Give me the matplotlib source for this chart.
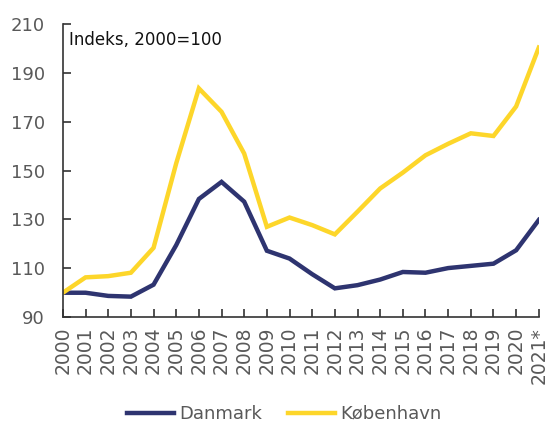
import numpy as np
import matplotlib.pyplot as plt

years = list(range(2000, 2022))
year_labels = [str(y) for y in years[:-1]] + ["2021*"]

danmark = [100, 100, 98.7, 98.4, 103.3, 119.5, 138.4, 145.4, 137.3, 117.2, 114,
           107.6, 101.8, 103.1, 105.4, 108.5, 108.2, 110.1, 111, 111.9, 117.4, 129.8]
kobenhavn = [100, 106.3, 106.8, 108.2, 118.4, 153, 183.7, 174.1, 157, 127, 130.8,
             127.7, 123.9, 133.2, 142.7, 149.2, 156.3, 161, 165.3, 164.2, 176.3, 200.4]

navy = "#2e3470"
yellow = "#fdd62a"
grey = "#595959"

fig = plt.figure(figsize=(5.47, 4.24), dpi=100)
ax = fig.add_axes([0.115, 0.252, 0.87, 0.691])

ax.plot(years, danmark, color=navy, lw=3.2, label="Danmark", solid_joinstyle="miter")
ax.plot(years, kobenhavn, color=yellow, lw=3.2, label="København", solid_joinstyle="miter")

ax.set_xlim(2000, 2021)
ax.set_ylim(90, 210)
ax.set_yticks(np.arange(90, 211, 20))
ax.set_xticks(years)
ax.set_xticklabels(year_labels, rotation=90)

for s in ["top", "right"]:
    ax.spines[s].set_visible(False)
for s in ["left", "bottom"]:
    ax.spines[s].set_color("#333333")
    ax.spines[s].set_linewidth(1.2)

ax.tick_params(direction="in", length=6, width=1.2, color="#333333",
               labelcolor=grey, labelsize=13)
ax.tick_params(axis="y", pad=13)
ax.tick_params(axis="x", pad=7, labelsize=13.5)

ax.text(0.012, 0.975, "Indeks, 2000=100", transform=ax.transAxes,
        ha="left", va="top", fontsize=12, color="#111111")

ax.legend(loc="center", bbox_to_anchor=(0.465, -0.33), ncol=2, frameon=False,
          fontsize=13, handlelength=2.6, columnspacing=1.4, handletextpad=0.3,
          labelcolor=grey)

fig.savefig("out.png", dpi=100)
